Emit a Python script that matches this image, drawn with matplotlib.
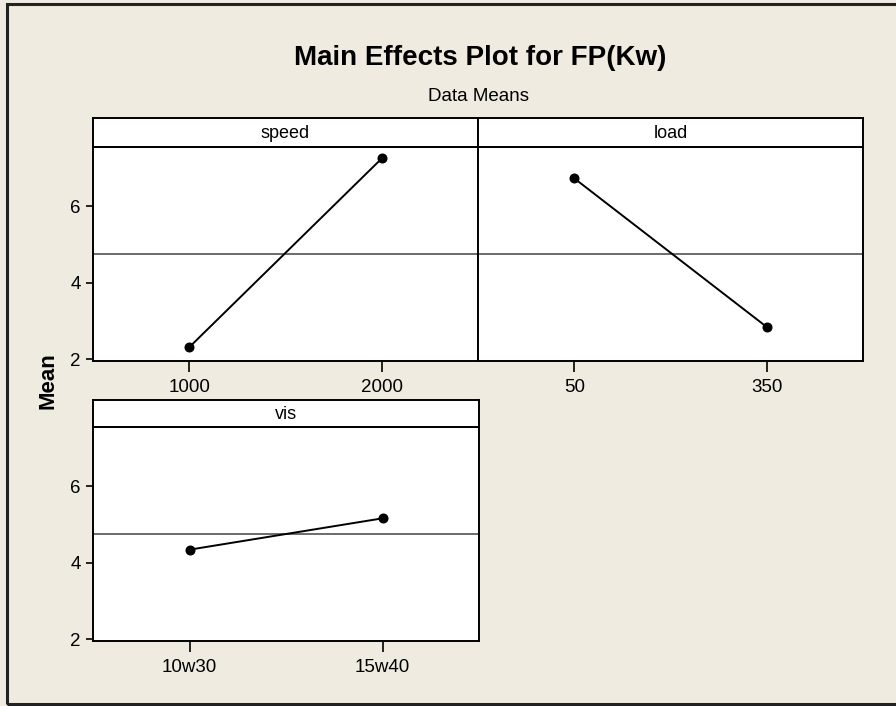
import matplotlib
matplotlib.use("Agg")
import matplotlib.pyplot as plt
from matplotlib.patches import Rectangle

plt.rcParams['font.family'] = ['Liberation Sans', 'DejaVu Sans']

# Data
factors = ["speed", "load", "vis"]
levels = [["1000", "2000"], ["50", "350"], ["10w30", "15w40"]]
speed_means = [2.31, 7.25]
load_means = [6.73, 2.84]
vis_means = [4.34, 5.16]
grand_mean = 4.76
yticks = [2, 4, 6]
series = [speed_means, load_means, vis_means]

W, H = 896, 706
fig = plt.figure(figsize=(W / 100, H / 100), dpi=100)
bg = "#EFEBE0"
fig.patch.set_facecolor(bg)

# outer border
fig.add_artist(Rectangle((7 / W, 1 - 704 / H), 1.0, (704 - 4) / H,
                         transform=fig.transFigure, fill=False,
                         edgecolor="#222222", linewidth=2.2, clip_on=False))

def px_axes(left, top, right, bottom):
    return [left / W, 1 - bottom / H, (right - left) / W, (bottom - top) / H]

panels = [
    (93, 147, 478, 361, 118),
    (478, 147, 863, 361, 118),
    (93, 427, 479, 641, 400),
]

ylim = (1.95, 7.55)
for i, (l, t, r, b, st) in enumerate(panels):
    ax = fig.add_axes(px_axes(l, t, r, b))
    ax.set_facecolor("white")
    x = list(range(len(levels[i])))
    ax.axhline(grand_mean, color="#444444", linewidth=1.1, zorder=1)
    ax.plot(x, series[i], color="black", linewidth=1.4, marker="o",
            markersize=6.2, zorder=3)
    ax.set_xlim(-0.5, 1.5)
    ax.set_ylim(*ylim)
    ax.set_xticks(x)
    ax.set_xticklabels(levels[i], fontsize=13.5)
    ax.set_yticks(yticks)
    if i == 1:
        ax.tick_params(axis="y", length=0, labelleft=False)
    else:
        ax.set_yticklabels([str(v) for v in yticks], fontsize=13.5)
        ax.tick_params(axis="y", length=5, width=1.2, pad=4)
    ax.tick_params(axis="x", length=8, width=1.2, pad=5)
    for s in ax.spines.values():
        s.set_linewidth(1.4)
        s.set_color("black")
    # strip
    sax = fig.add_axes(px_axes(l, st, r, t))
    sax.set_facecolor("white")
    sax.set_xticks([])
    sax.set_yticks([])
    for s in sax.spines.values():
        s.set_linewidth(1.4)
        s.set_color("black")
    sax.text(0.5, 0.45, factors[i], ha="center", va="center", fontsize=13,
             transform=sax.transAxes)

fig.text(480 / W, 1 - 65 / H, "Main Effects Plot for FP(Kw)", ha="center",
         va="baseline", fontsize=20, fontweight="bold")
fig.text(478 / W, 1 - 101 / H, "Data Means", ha="center", va="baseline",
         fontsize=13.5)
fig.text(48 / W, 1 - 381 / H, "Mean", ha="center", va="center",
         fontsize=16, fontweight="bold", rotation=90)

fig.savefig("out.png", dpi=100, facecolor=bg)
